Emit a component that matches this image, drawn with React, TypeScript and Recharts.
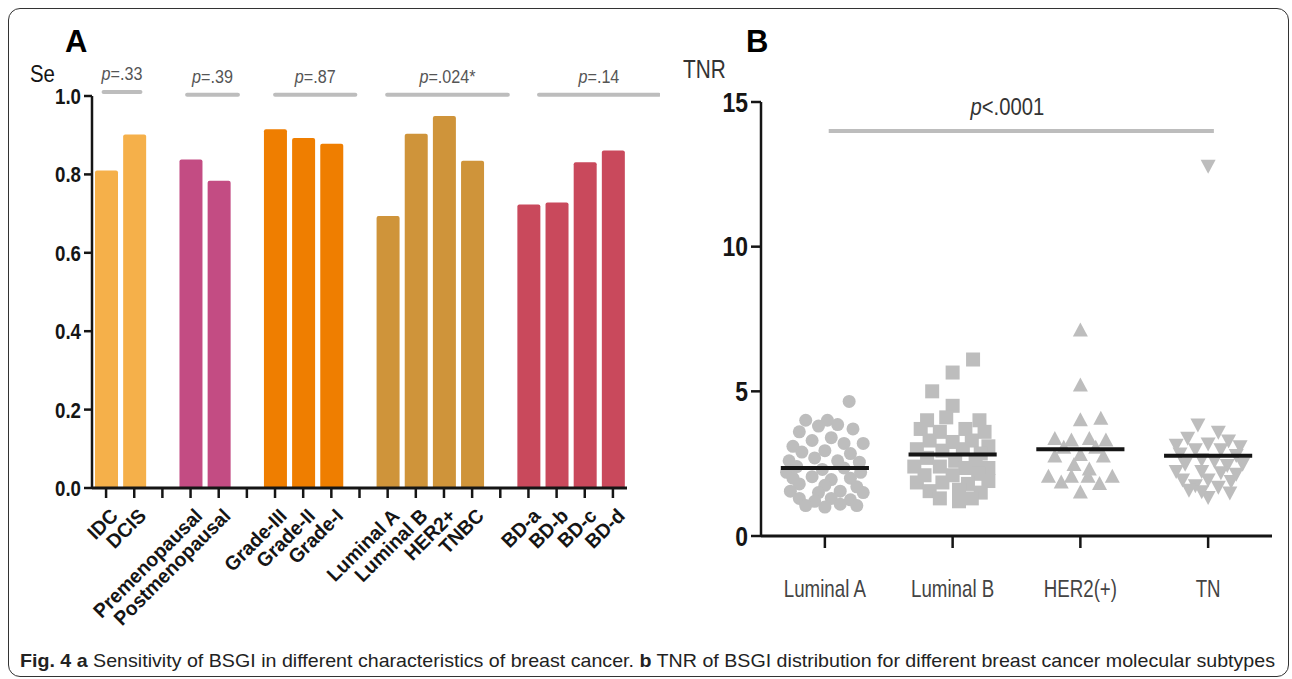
import React from 'react';
import { BarChart, Bar, Cell, XAxis, YAxis, ReferenceLine, ScatterChart, Scatter } from 'recharts';

const FONT = "'Liberation Sans', Arial, Helvetica, sans-serif";

// ---- panel A: sensitivity per characteristic ----
const seCategories = [
  'IDC', 'DCIS', 'gap1',
  'Premenopausal', 'Postmenopausal', 'gap2',
  'Grade-III', 'Grade-II', 'Grade-I', 'gap3',
  'Luminal A', 'Luminal B', 'HER2+', 'TNBC', 'gap4',
  'BD-a', 'BD-b', 'BD-c', 'BD-d',
];
const seValues = [
  0.81, 0.902, null,
  0.838, 0.784, null,
  0.915, 0.893, 0.878, null,
  0.694, 0.904, 0.949, 0.835, null,
  0.723, 0.728, 0.831, 0.861,
];
const seGroup = [0, 0, -1, 1, 1, -1, 2, 2, 2, -1, 3, 3, 3, 3, -1, 4, 4, 4, 4];
const groupColors = ['#F5B04A', '#C34C83', '#EF7E00', '#CF943A', '#C9495C'];
const seTicks = [0, 0.2, 0.4, 0.6, 0.8, 1.0];

// p-value brackets above each group (x in category units)
const pLabels = ['.33', '.39', '.87', '.024*', '.14'];
const pFrom = [0.39, 3.2, 6.16, 9.93, 15.04];
const pTo = [1.63, 4.91, 8.86, 13.99, 19.07];
const pLevel = [1.01, 1.003, 1.003, 1.003, 1.003];

// ---- panel B: TNR by molecular subtype ----
const subtypes = ['Luminal A', 'Luminal B', 'HER2(+)', 'TN'];
const tnrTicks = [0, 5, 10, 15];
// [horizontal spread within column, TNR]
const lumA = [
  [0.19, 4.65], [-0.15, 4.0], [0.02, 4.0], [0.22, 3.7], [-0.2, 3.6], [0.3, 3.2], [-0.05, 3.8], [0.1, 3.85],
  [-0.25, 3.1], [-0.1, 3.3], [0.05, 3.4], [0.15, 3.2], [-0.18, 2.9], [0.0, 2.95], [0.2, 2.85],
  [-0.28, 2.6], [-0.08, 2.7], [0.1, 2.6], [0.27, 2.55], [-0.22, 2.4], [-0.02, 2.3], [0.15, 2.35],
  [-0.3, 2.2], [0.28, 2.2], [-0.25, 2.0], [-0.1, 2.05], [0.05, 1.95], [0.2, 2.0], [-0.2, 1.8],
  [0.0, 1.75], [0.25, 1.7], [-0.27, 1.55], [-0.05, 1.5], [0.12, 1.55], [0.3, 1.5], [-0.2, 1.3],
  [-0.08, 1.2], [0.05, 1.3], [0.2, 1.25], [-0.15, 1.05], [0.0, 1.0], [0.12, 1.1], [0.25, 1.05],
];
const lumB = [
  [0.16, 6.1], [0.0, 5.65], [-0.16, 5.0], [0.0, 4.5], [-0.2, 4.0], [0.21, 4.0], [-0.05, 4.1],
  [-0.25, 3.7], [-0.1, 3.6], [0.1, 3.7], [0.25, 3.6], [-0.18, 3.3], [0.0, 3.25], [0.15, 3.3],
  [0.28, 3.1], [-0.28, 3.0], [-0.08, 2.95], [0.08, 3.0], [0.22, 2.85], [-0.2, 2.7], [0.02, 2.6],
  [0.18, 2.6], [-0.3, 2.4], [-0.1, 2.4], [0.1, 2.35], [0.28, 2.35], [-0.22, 2.1], [0.0, 2.1],
  [0.2, 2.15], [-0.28, 1.85], [-0.08, 1.85], [0.12, 1.8], [0.28, 1.9], [-0.18, 1.55], [0.05, 1.6],
  [0.22, 1.5], [-0.1, 1.3], [0.05, 1.2], [0.15, 1.3],
];
const her2 = [
  [0.0, 7.1], [0.0, 5.2], [0.0, 4.0], [0.16, 4.05], [-0.2, 3.35], [-0.07, 3.3], [0.07, 3.35],
  [0.2, 3.3], [-0.13, 3.05], [0.12, 3.05], [0.0, 2.8], [-0.2, 2.75], [0.18, 2.75], [-0.05, 2.45],
  [0.07, 2.3], [-0.25, 2.05], [-0.15, 1.85], [-0.07, 2.05], [0.06, 2.05], [0.15, 1.8], [0.25, 2.05],
  [0.0, 1.5],
];
const tn = [
  [0.0, 12.8], [-0.08, 3.85], [0.08, 3.6], [-0.16, 3.4], [0.16, 3.3], [-0.25, 3.15], [0.0, 3.2],
  [0.25, 3.1], [-0.1, 3.0], [0.1, 3.0], [-0.22, 2.85], [0.22, 2.8], [-0.05, 2.65], [0.05, 2.6],
  [-0.18, 2.5], [0.15, 2.45], [0.27, 2.5], [-0.25, 2.25], [-0.05, 2.25], [0.1, 2.2], [0.22, 2.15],
  [-0.2, 1.95], [0.0, 1.95], [0.18, 1.9], [-0.1, 1.75], [0.08, 1.7], [-0.15, 1.6], [0.17, 1.5],
  [0.0, 1.35], [-0.05, 1.55],
];
const tnrMedians = [2.35, 2.82, 3.0, 2.77];
const medianHalfWidth = 0.345;

const POINT = '#BDBDBD';
const INK = '#151515';

const seData = seCategories.map((name, i) => ({ name, value: seValues[i] }));
const toPoints = (pts, col) => pts.map(([dx, y]) => ({ x: col + 0.5 + dx, y }));

// condensed text helper (figure uses a narrow Helvetica)
function CText({ x, y, size, bold, anchor = 'start', squeeze = 0.85, rotate = 0, dy = 0, fill = INK, children }) {
  return (
    <g transform={`translate(${x},${y})`}>
      <text
        transform={`rotate(${rotate}) scale(${squeeze},1)`}
        textAnchor={anchor}
        dy={dy}
        fontSize={size}
        fontWeight={bold ? 'bold' : 'normal'}
        fontFamily={FONT}
        fill={fill}
      >
        {children}
      </text>
    </g>
  );
}

const SeYTick = ({ x, y, payload }) => (
  <CText x={x} y={y} size={22} bold anchor="end" dy="0.36em">{payload.value.toFixed(1)}</CText>
);

const SeXTick = ({ x, y, payload }) =>
  payload.value.startsWith('gap') ? null : (
    <CText x={x + 8} y={y + 12} size={20} bold anchor="end" rotate={-45} squeeze={0.97} dy="0.36em">
      {payload.value}
    </CText>
  );

const PLabel = ({ viewBox, text }) => {
  const cx = viewBox.x + viewBox.width / 2;
  return (
    <g transform={`translate(${cx},${viewBox.y - 12})`}>
      <text transform="scale(0.85,1)" textAnchor="middle" fontSize={19} fontFamily={FONT} fill="#555">
        <tspan fontStyle="italic">p</tspan>={text}
      </text>
    </g>
  );
};

const TnrYTick = ({ x, y, payload }) => (
  <CText x={x} y={y} size={27} bold anchor="end" dy="0.36em">{payload.value}</CText>
);

const TnrXTick = ({ x, y, payload }) => (
  <CText x={x} y={y + 47} size={24} anchor="middle" squeeze={0.78} fill="#444">
    {subtypes[Math.floor(payload.value)]}
  </CText>
);

const OverallLabel = ({ viewBox }) => (
  <g transform={`translate(${viewBox.x + viewBox.width / 2 - 14},${viewBox.y - 16})`}>
    <text transform="scale(0.88,1)" textAnchor="middle" fontSize={23} fontFamily={FONT} fill="#333">
      <tspan fontStyle="italic">p</tspan>{'<.0001'}
    </text>
  </g>
);

const circle = ({ cx, cy }) => <circle cx={cx} cy={cy} r={6.5} fill={POINT} />;
const square = ({ cx, cy }) => <rect x={cx - 7} y={cy - 7} width={14} height={14} fill={POINT} />;
const triUp = ({ cx, cy }) => (
  <path d={`M${cx},${cy - 8}L${cx + 7.5},${cy + 6}L${cx - 7.5},${cy + 6}Z`} fill={POINT} />
);
const triDown = ({ cx, cy }) => (
  <path d={`M${cx},${cy + 8}L${cx + 7.5},${cy - 6}L${cx - 7.5},${cy - 6}Z`} fill={POINT} />
);
const noDot = () => null;

function PanelA() {
  return (
    <BarChart width={660} height={679} data={seData} margin={{ top: 96, right: 33, left: 0, bottom: 0 }}>
      <XAxis
        xAxisId="cat"
        dataKey="name"
        interval={0}
        height={191}
        tickSize={10}
        tickMargin={2}
        axisLine={{ stroke: INK, strokeWidth: 3 }}
        tickLine={{ stroke: INK, strokeWidth: 2.5 }}
        tick={<SeXTick />}
      />
      <XAxis xAxisId="pos" type="number" domain={[0, seCategories.length]} hide />
      <YAxis
        width={92}
        domain={[0, 1]}
        ticks={seTicks}
        tickSize={8}
        tickMargin={3}
        axisLine={{ stroke: INK, strokeWidth: 2.5 }}
        tickLine={{ stroke: INK, strokeWidth: 2.5 }}
        tick={<SeYTick />}
      />
      <Bar xAxisId="cat" dataKey="value" barSize={23} radius={[2, 2, 0, 0]} isAnimationActive={false}>
        {seData.map((d, i) => (
          <Cell key={d.name} fill={seGroup[i] >= 0 ? groupColors[seGroup[i]] : 'none'} />
        ))}
      </Bar>
      {pLabels.map((p, i) => (
        <ReferenceLine
          key={p}
          xAxisId="pos"
          ifOverflow="visible"
          segment={[{ x: pFrom[i], y: pLevel[i] }, { x: pTo[i], y: pLevel[i] }]}
          stroke="#BDBDBD"
          strokeWidth={4}
          strokeLinecap="round"
          label={<PLabel text={p} />}
        />
      ))}
    </BarChart>
  );
}

function PanelB() {
  const groups = [lumA, lumB, her2, tn];
  const shapes = [circle, square, triUp, triDown];
  return (
    <ScatterChart width={632} height={679} margin={{ top: 102, right: 20, left: 0, bottom: 0 }}>
      <XAxis
        type="number"
        dataKey="x"
        domain={[0, 4]}
        ticks={[0.5, 1.5, 2.5, 3.5]}
        height={143}
        tickSize={12}
        tickMargin={2}
        axisLine={{ stroke: INK, strokeWidth: 3 }}
        tickLine={{ stroke: INK, strokeWidth: 2.5 }}
        tick={<TnrXTick />}
      />
      <YAxis
        type="number"
        dataKey="y"
        width={101}
        domain={[0, 15]}
        ticks={tnrTicks}
        tickSize={10}
        tickMargin={3}
        axisLine={{ stroke: INK, strokeWidth: 2.5 }}
        tickLine={{ stroke: INK, strokeWidth: 2.5 }}
        tick={<TnrYTick />}
      />
      <ReferenceLine
        ifOverflow="visible"
        segment={[{ x: 0.53, y: 14.0 }, { x: 3.545, y: 14.0 }]}
        stroke="#BDBDBD"
        strokeWidth={4}
        label={<OverallLabel />}
      />
      {groups.map((pts, g) => (
        <Scatter key={subtypes[g]} data={toPoints(pts, g)} shape={shapes[g]} isAnimationActive={false} />
      ))}
      {tnrMedians.map((m, g) => (
        <Scatter
          key={`median-${subtypes[g]}`}
          data={[
            { x: g + 0.5 - medianHalfWidth, y: m },
            { x: g + 0.5 + medianHalfWidth, y: m },
          ]}
          line={{ stroke: INK, strokeWidth: 4 }}
          shape={noDot}
          isAnimationActive={false}
        />
      ))}
    </ScatterChart>
  );
}

export default function App() {
  return (
    <div style={{ position: 'absolute', left: 0, top: 0, width: 1292, height: 679, background: '#fff', overflow: 'hidden' }}>
      <div
        style={{
          position: 'absolute', left: 8, top: 8, width: 1281, height: 669,
          border: '1.5px solid #333', borderRadius: 12, boxSizing: 'border-box',
        }}
      />
      <div style={{ position: 'absolute', left: 0, top: 0 }}>
        <PanelA />
      </div>
      <div style={{ position: 'absolute', left: 660, top: 0 }}>
        <PanelB />
      </div>
      <svg width={1292} height={679} style={{ position: 'absolute', left: 0, top: 0, pointerEvents: 'none' }}>
        <text x={65} y={52} fontSize={31} fontWeight="bold" fontFamily={FONT} fill="#000">A</text>
        <CText x={30} y={82} size={24}>Se</CText>
        <text x={746} y={52} fontSize={31} fontWeight="bold" fontFamily={FONT} fill="#000">B</text>
        <CText x={683} y={78} size={26} squeeze={0.8} fill="#333">TNR</CText>
        <text x={20} y={667} fontSize={19} fontFamily={FONT} fill="#222" textLength={1255} lengthAdjust="spacingAndGlyphs">
          <tspan fontWeight="bold">Fig. 4 a</tspan> Sensitivity of BSGI in different characteristics of breast cancer.{' '}
          <tspan fontWeight="bold">b</tspan> TNR of BSGI distribution for different breast cancer molecular subtypes
        </text>
      </svg>
    </div>
  );
}
